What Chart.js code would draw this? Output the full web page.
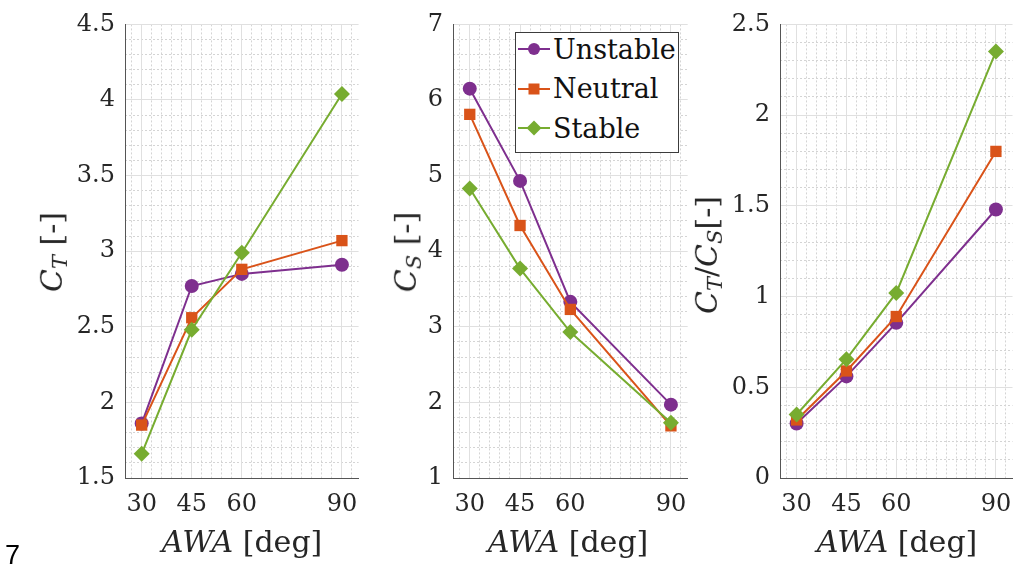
<!DOCTYPE html>
<html>
<head>
<meta charset="utf-8">
<script src="https://cdn.jsdelivr.net/npm/chart.js@4.4.0/dist/chart.umd.min.js"></script>
<style>
  body { margin: 0; background: #fff; width: 1016px; height: 573px; overflow: hidden; position: relative; }
  canvas { position: absolute; top: 0; }
  .lbl { position: absolute; font-family: "DejaVu Serif", serif; color: #262626; white-space: nowrap; font-size: 30px; }
  .ytitle { transform: translate(-50%, -50%) rotate(-90deg); }
  .xtitle { transform: translate(-50%, -50%); }
  .lbl sub { font-size: 70%; vertical-align: -0.25em; }
  #legend { position: absolute; left: 515px; top: 32px; width: 162px; height: 119px; border: 1px solid #3c3c3c; background: #fff; }
  #legend .row { position: absolute; left: 0; height: 36px; display: flex; align-items: center; }
  #legend .row span { font-family: "DejaVu Serif", serif; font-size: 27px; color: #111; margin-left: 1px; }
  #seven { position: absolute; left: 5px; top: 540px; font-family: "Liberation Sans", sans-serif; font-size: 27px; color: #000; }
</style>
</head>
<body>
<canvas id="c1" width="370" height="573" style="left:0px"></canvas>
<canvas id="c2" width="359" height="573" style="left:340px"></canvas>
<canvas id="c3" width="334" height="573" style="left:690px"></canvas>

<div class="lbl ytitle" style="left:53px; top:252px;"><i>C</i><sub><i>T</i></sub> [-]</div>
<div class="lbl ytitle" style="left:407px; top:252px;"><i>C</i><sub><i>S</i></sub> [-]</div>
<div class="lbl ytitle" style="left:708px; top:255px;"><i>C</i><sub><i>T</i></sub>/<i>C</i><sub><i>S</i></sub>[-]</div>
<div class="lbl xtitle" style="left:242px; top:541px;"><i>AWA</i> [deg]</div>
<div class="lbl xtitle" style="left:568px; top:541px;"><i>AWA</i> [deg]</div>
<div class="lbl xtitle" style="left:897px; top:541px;"><i>AWA</i> [deg]</div>

<div id="legend"></div>
<div id="seven">7</div>

<script>
// datos
var awa = [30, 45, 60, 90];
var seriesNames = ["Unstable", "Neutral", "Stable"];

var ctUnstable = [1.86, 2.77, 2.85, 2.91];
var ctNeutral = [1.85, 2.56, 2.88, 3.07];
var ctStable = [1.66, 2.48, 2.99, 4.04];

var csUnstable = [6.15, 4.93, 3.33, 1.97];
var csNeutral = [5.81, 4.34, 3.23, 1.69];
var csStable = [4.83, 3.77, 2.93, 1.73];

var ratioUnstable = [0.30, 0.56, 0.855, 1.48];
var ratioNeutral = [0.32, 0.59, 0.89, 1.80];
var ratioStable = [0.35, 0.655, 1.02, 2.35];

var xTicks = [30, 45, 60, 90];
var ctTicks = [1.5, 2, 2.5, 3, 3.5, 4, 4.5];
var csTicks = [1, 2, 3, 4, 5, 6, 7];
var ratioTicks = [0, 0.5, 1, 1.5, 2, 2.5];

var colors = ["#7E2F8E", "#D95319", "#77AC30"];
var markers = ["circle", "rect", "rectRot"];
var radii = [7, 8, 8];

function minorTicks(min, max, step, majors) {
    var out = [];
    for (var v = min; v <= max + 1e-9; v += step) {
        var r = Math.round(v * 1000) / 1000;
        if (majors.indexOf(r) < 0) out.push({value: r});
    }
    return out;
}

function panel(id, values, yTicks, yStep, yWidth, padRight) {
    var yMin = yTicks[0], yMax = yTicks[yTicks.length - 1];
    var font = {family: "'DejaVu Serif', serif", size: 24};
    new Chart(document.getElementById(id), {
        type: "line",
        data: {
            datasets: seriesNames.map(function (n, k) {
                return {
                    label: n,
                    data: awa.map(function (x, i) { return {x: x, y: values[k][i]}; }),
                    borderColor: colors[k],
                    backgroundColor: colors[k],
                    borderWidth: 2,
                    pointStyle: markers[k],
                    pointRadius: radii[k],
                    pointHoverRadius: radii[k],
                    pointBorderWidth: 0,
                    order: 3 - k,
                    clip: false
                };
            })
        },
        options: {
            responsive: false,
            animation: false,
            events: [],
            layout: {autoPadding: false, padding: {top: 24, right: padRight, left: 0, bottom: 0}},
            plugins: {legend: {display: false}, tooltip: {enabled: false}},
            scales: {
                xMinor: {
                    type: "linear", position: "bottom", min: 25, max: 95,
                    afterBuildTicks: function (s) { s.ticks = minorTicks(27, 93, 3, xTicks); },
                    afterFit: function (s) { s.height = 0; },
                    ticks: {display: false},
                    grid: {color: "#d4d4d4", drawTicks: false, borderDash: [2, 2]},
                    border: {display: false, dash: [2, 2]}
                },
                yMinor: {
                    type: "linear", position: "left", min: yMin, max: yMax,
                    afterBuildTicks: function (s) { s.ticks = minorTicks(yMin, yMax, yStep, yTicks); },
                    afterFit: function (s) { s.width = 0; },
                    ticks: {display: false},
                    grid: {color: "#d4d4d4", drawTicks: false, borderDash: [2, 2]},
                    border: {display: false, dash: [2, 2]}
                },
                x: {
                    type: "linear", position: "bottom", min: 25, max: 95,
                    afterBuildTicks: function (s) { s.ticks = xTicks.map(function (v) { return {value: v}; }); },
                    afterFit: function (s) { s.height = 95; },
                    ticks: {font: font, color: "#262626", padding: 12, maxRotation: 0,
                        callback: function (v) { return String(v); }},
                    grid: {color: "#e0e0e0", drawTicks: false},
                    border: {display: true, color: "#555", width: 1}
                },
                y: {
                    type: "linear", position: "left", min: yMin, max: yMax,
                    afterBuildTicks: function (s) { s.ticks = yTicks.map(function (v) { return {value: v}; }); },
                    afterFit: function (s) { s.width = yWidth; },
                    ticks: {font: font, color: "#262626", padding: 10,
                        callback: function (v) { return String(v); }},
                    grid: {color: "#e0e0e0", drawTicks: false},
                    border: {display: true, color: "#555", width: 1}
                }
            }
        }
    });
}

panel("c1", [ctUnstable, ctNeutral, ctStable], ctTicks, 0.1, 125, 5);
panel("c2", [csUnstable, csNeutral, csStable], csTicks, 0.2, 113, 5);
panel("c3", [ratioUnstable, ratioNeutral, ratioStable], ratioTicks, 0.1, 90, 3);

// leyenda en html
function markerSvg(k) {
    var c = colors[k];
    var shape;
    if (k == 0) shape = '<circle cx="18" cy="10" r="6" fill="' + c + '"/>';
    else if (k == 1) shape = '<rect x="12.5" y="4.5" width="11" height="11" fill="' + c + '"/>';
    else shape = '<polygon points="18,2.5 25.5,10 18,17.5 10.5,10" fill="' + c + '"/>';
    return '<svg width="36" height="20"><line x1="2" y1="10" x2="34" y2="10" stroke="' + c + '" stroke-width="2"/>' + shape + '</svg>';
}
var legend = document.getElementById("legend");
var rowCenters = [16, 55.5, 95];
seriesNames.forEach(function (n, k) {
    var row = document.createElement("div");
    row.className = "row";
    row.style.top = (rowCenters[k] - 18) + "px";
    row.innerHTML = markerSvg(k) + "<span>" + n + "</span>";
    legend.appendChild(row);
});
</script>
</body>
</html>
